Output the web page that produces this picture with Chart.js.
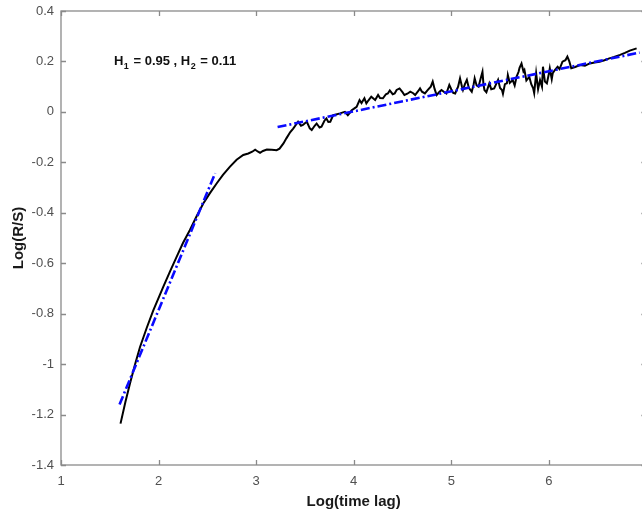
<!DOCTYPE html>
<html>
<head>
<meta charset="utf-8">
<script src="https://cdn.jsdelivr.net/npm/chart.js@4.4.1/dist/chart.umd.min.js"></script>
<style>
  html, body { margin: 0; padding: 0; background: #fff; overflow: hidden; }
  #wrap { position: relative; width: 659px; height: 515px; }
</style>
</head>
<body>
<div id="wrap"><canvas id="rsChart"></canvas></div>
<script>
// R/S curve
const lagX = [
  1.61, 1.66, 1.707, 1.76, 1.81, 1.88, 1.946, 2.048, 2.12, 2.185, 2.25, 2.32, 2.39, 2.458, 2.53, 2.595,
  2.66, 2.73, 2.80, 2.868, 2.92, 2.96, 2.99, 3.02, 3.04, 3.07, 3.11, 3.16, 3.21, 3.24, 3.28, 3.31,
  3.35, 3.38, 3.41, 3.43, 3.46, 3.48, 3.50, 3.52, 3.55, 3.57, 3.60, 3.62, 3.65, 3.67, 3.70, 3.72,
  3.74, 3.76, 3.79, 3.82, 3.86, 3.89, 3.91, 3.94, 3.96, 3.98, 4.00, 4.03, 4.06, 4.08, 4.11, 4.13,
  4.15, 4.18, 4.22, 4.25, 4.27, 4.30, 4.33, 4.35, 4.37, 4.40, 4.42, 4.44, 4.47, 4.50, 4.52, 4.55,
  4.58, 4.61, 4.63, 4.66, 4.68, 4.70, 4.73, 4.76, 4.79, 4.81, 4.83, 4.85, 4.88, 4.90, 4.93, 4.95,
  4.98, 5.00, 5.02, 5.04, 5.07, 5.09, 5.11, 5.12, 5.14, 5.16, 5.18, 5.21, 5.23, 5.24, 5.26, 5.28,
  5.30, 5.32, 5.33, 5.34, 5.36, 5.39, 5.41, 5.44, 5.46, 5.48, 5.50, 5.52, 5.53, 5.55, 5.57, 5.58,
  5.60, 5.63, 5.65, 5.67, 5.69, 5.70, 5.72, 5.74, 5.75, 5.77, 5.80, 5.82, 5.84, 5.85, 5.87, 5.89,
  5.91, 5.93, 5.94, 5.96, 5.98, 6.00, 6.01, 6.03, 6.04, 6.06, 6.09, 6.11, 6.14, 6.17, 6.19, 6.21,
  6.23, 6.27, 6.32, 6.37, 6.42, 6.47, 6.52, 6.57, 6.62, 6.67, 6.73, 6.78, 6.83, 6.90
];
const logRS = [
  -1.236, -1.15, -1.077, -1.00, -0.932, -0.855, -0.787, -0.694, -0.63, -0.575, -0.52, -0.469, -0.414, -0.363, -0.32, -0.284,
  -0.25, -0.218, -0.19, -0.171, -0.165, -0.158, -0.150, -0.158, -0.162, -0.155, -0.149, -0.150, -0.152, -0.146, -0.125, -0.105,
  -0.08, -0.066, -0.05, -0.039, -0.055, -0.052, -0.045, -0.039, -0.065, -0.072, -0.055, -0.046, -0.062, -0.059, -0.035, -0.026,
  -0.04, -0.039, -0.013, -0.01, -0.006, -0.002, 0.0, -0.013, -0.004, 0.007, 0.012, 0.02, 0.047, 0.035, 0.054, 0.034,
  0.045, 0.06, 0.047, 0.067, 0.055, 0.054, 0.07, 0.073, 0.085, 0.07, 0.073, 0.087, 0.093, 0.078, 0.067, 0.072,
  0.08, 0.074, 0.067, 0.082, 0.093, 0.08, 0.073, 0.087, 0.1, 0.12, 0.09, 0.067, 0.08, 0.087, 0.078, 0.073,
  0.107, 0.09, 0.075, 0.073, 0.1, 0.133, 0.1, 0.087, 0.11, 0.127, 0.095, 0.08, 0.11, 0.133, 0.105, 0.1,
  0.13, 0.159, 0.11, 0.087, 0.078, 0.113, 0.09, 0.093, 0.11, 0.127, 0.095, 0.087, 0.072, 0.11, 0.113, 0.146,
  0.115, 0.126, 0.105, 0.14, 0.159, 0.175, 0.192, 0.16, 0.166, 0.125, 0.139, 0.11, 0.093, 0.075, 0.153, 0.09,
  0.126, 0.1, 0.179, 0.12, 0.113, 0.15, 0.173, 0.13, 0.153, 0.165, 0.179, 0.17, 0.199, 0.205, 0.219, 0.2,
  0.173, 0.178, 0.186, 0.183, 0.192, 0.196, 0.199, 0.205, 0.212, 0.218, 0.226, 0.234, 0.243, 0.252
];

// fitted lines (short and long lags)
const fit1X = [1.6, 2.58];
const fit1Y = [-1.16, -0.243];
const fit2X = [3.22, 6.93];
const fit2Y = [-0.06, 0.235];

const xTicks = [1, 2, 3, 4, 5, 6, 7];
const yTicks = [-1.4, -1.2, -1, -0.8, -0.6, -0.4, -0.2, 0, 0.2, 0.4];
const yTickLabels = ['-1.4', '-1.2', '-1', '-0.8', '-0.6', '-0.4', '-0.2', '0', '0.2', '0.4'];

const FONT = "'Liberation Sans', Arial, sans-serif";
const pts = (xs, ys) => xs.map((x, i) => ({ x, y: ys[i] }));

// matlab style box with inward ticks + the H annotation
const boxPlugin = {
  id: 'box',
  afterDatasetsDraw(chart) {
    const { ctx, chartArea: a, scales } = chart;
    ctx.save();
    ctx.strokeStyle = '#8a8a8a';
    ctx.lineWidth = 1.3;
    ctx.strokeRect(a.left, a.top, a.right - a.left, a.bottom - a.top);
    ctx.beginPath();
    xTicks.forEach((v) => {
      const px = Math.round(scales.x.getPixelForValue(v)) + 0.5;
      ctx.moveTo(px, a.bottom); ctx.lineTo(px, a.bottom - 5);
      ctx.moveTo(px, a.top); ctx.lineTo(px, a.top + 5);
    });
    yTicks.forEach((v) => {
      const py = Math.round(scales.y.getPixelForValue(v)) + 0.5;
      ctx.moveTo(a.left, py); ctx.lineTo(a.left + 5, py);
      ctx.moveTo(a.right, py); ctx.lineTo(a.right - 5, py);
    });
    ctx.stroke();

    // H1 / H2 text
    let x = scales.x.getPixelForValue(1.543);
    const y = scales.y.getPixelForValue(0.186);
    ctx.fillStyle = '#111';
    ctx.textBaseline = 'alphabetic';
    const parts = [
      ['H', 13, 0], ['1', 9, 4], [' = 0.95 , H', 13, 0], ['2', 9, 4], [' = 0.11', 13, 0]
    ];
    parts.forEach(([t, size, dy]) => {
      ctx.font = `bold ${size}px ${FONT}`;
      ctx.fillText(t, x, y + dy);
      x += ctx.measureText(t).width + (size === 9 ? 1 : 0.5);
    });
    ctx.restore();
  }
};

const ctx = document.getElementById('rsChart');
new Chart(ctx, {
  type: 'scatter',
  data: {
    datasets: [
      {
        label: 'fit1', data: pts(fit1X, fit1Y), showLine: true,
        borderColor: '#0a0aff', borderWidth: 2.6, borderDash: [9, 3, 2, 3], pointRadius: 0
      },
      {
        label: 'fit2', data: pts(fit2X, fit2Y), showLine: true,
        borderColor: '#0a0aff', borderWidth: 2.6, borderDash: [9, 3, 2, 3], pointRadius: 0
      },
      {
        label: 'R/S', data: pts(lagX, logRS), showLine: true,
        borderColor: '#000', borderWidth: 2, pointRadius: 0, tension: 0
      }
    ]
  },
  options: {
    responsive: true,
    maintainAspectRatio: false,
    animation: false,
    layout: { padding: { top: 11, right: 0, left: 0, bottom: 0 } },
    plugins: { legend: { display: false }, tooltip: { enabled: false } },
    scales: {
      x: {
        type: 'linear', min: 1, max: 7,
        afterBuildTicks: (s) => { s.ticks = xTicks.map((v) => ({ value: v })); },
        afterFit: (s) => { s.height = 50; },
        grid: { display: false, drawTicks: false },
        border: { display: false },
        ticks: { font: { family: FONT, size: 13 }, color: '#505050', padding: 9, maxRotation: 0 },
        title: {
          display: true, text: 'Log(time lag)', color: '#1a1a1a',
          font: { family: FONT, size: 15, weight: 'bold' }, padding: { top: 0, bottom: 4 }
        }
      },
      y: {
        type: 'linear', min: -1.4, max: 0.4,
        afterBuildTicks: (s) => { s.ticks = yTicks.map((v) => ({ value: v })); },
        afterFit: (s) => { s.width = 61; },
        grid: { display: false, drawTicks: false },
        border: { display: false },
        ticks: {
          font: { family: FONT, size: 13, lineHeight: 0.6 }, color: '#505050', padding: 7,
          callback: (v) => yTickLabels[yTicks.indexOf(v)] ?? ''
        },
        title: {
          display: true, text: 'Log(R/S)', color: '#1a1a1a',
          font: { family: FONT, size: 15, weight: 'bold' }, padding: { top: 10, bottom: 0 }
        }
      }
    }
  },
  plugins: [boxPlugin]
});
</script>
</body>
</html>
